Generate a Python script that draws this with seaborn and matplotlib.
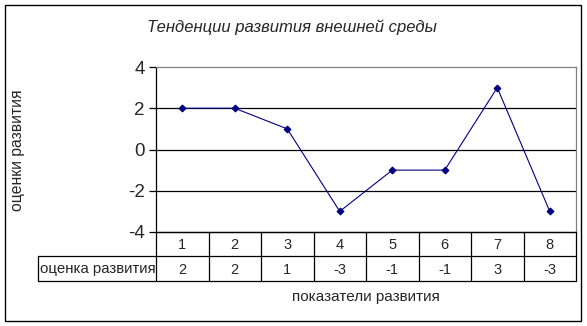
import matplotlib
matplotlib.use("Agg")
import matplotlib.pyplot as plt
import seaborn as sns
import pandas as pd
from matplotlib.lines import Line2D

categories = [1, 2, 3, 4, 5, 6, 7, 8]
values = [2, 2, 1, -3, -1, -1, 3, -3]
yticks = [-4, -2, 0, 2, 4]
title = "Тенденции развития внешней среды"
ylabel = "оценки развития"
xlabel = "показатели развития"
series_name = "оценка развития"

sns.set_style("white")
plt.rcParams['font.family'] = ['Liberation Sans', 'DejaVu Sans']

W, H = 587, 326
fig = plt.figure(figsize=(W / 100, H / 100), dpi=100)
fig.patch.set_facecolor("white")

def fx(px):
    return px / W

def fy(py):
    return 1 - py / H

L, R, T, B = 156, 576, 67, 232
ax = fig.add_axes([fx(L), fy(B), fx(R) - fx(L), fy(T) - fy(B)])

df = pd.DataFrame({"cat": categories, "val": values})
sns.lineplot(data=df, x="cat", y="val", ax=ax, color="#000080", linewidth=0.8,
             marker="D", markersize=3.5, markeredgecolor="#000080", markerfacecolor="#000080")

ax.set_xlim(0.5, 8.5)
ax.set_ylim(-4, 4)
ax.set_yticks(yticks)
ax.set_yticklabels([str(v) for v in yticks], fontsize=13.5)
ax.set_xticks([])
ax.set_xlabel("")
ax.set_ylabel("")
for v in [-2, 0, 2]:
    ax.axhline(v, color="black", linewidth=0.9, zorder=0)
ax.tick_params(axis="y", direction="out", length=5, width=0.9, color="black", pad=3, left=True)
for s in ["top", "right"]:
    ax.spines[s].set_color("#808080")
    ax.spines[s].set_linewidth(0.9)
ax.spines["left"].set_color("black")
ax.spines["left"].set_linewidth(0.9)
ax.spines["bottom"].set_color("black")
ax.spines["bottom"].set_linewidth(0.9)

# data table
r1, r2, r3 = 232, 256, 281
labx = 38
col_w = (R - L) / len(categories)

def hline(x0, x1, y):
    fig.add_artist(Line2D([fx(x0), fx(x1)], [fy(y), fy(y)], color="black", linewidth=0.9))

def vline(x, y0, y1):
    fig.add_artist(Line2D([fx(x), fx(x)], [fy(y0), fy(y1)], color="black", linewidth=0.9))

hline(L, R, r1)
hline(labx, R, r2)
hline(labx, R, r3)
vline(labx, r2, r3)
for i in range(len(categories) + 1):
    vline(L + i * col_w, r1, r3)

for i, (c, v) in enumerate(zip(categories, values)):
    cx = L + (i + 0.5) * col_w
    fig.text(fx(cx), fy((r1 + r2) / 2 + 1), str(c), ha="center", va="center", fontsize=10.5)
    fig.text(fx(cx), fy((r2 + r3) / 2 + 1), str(v), ha="center", va="center", fontsize=10.5)
fig.text(fx(labx + 2), fy((r2 + r3) / 2 + 1), series_name, ha="left", va="center", fontsize=10.8)

fig.text(fx(292), fy(27), title, ha="center", va="center", fontsize=12, style="italic")
fig.text(fx(18), fy(150), ylabel, ha="center", va="center", fontsize=11.3, rotation=90)
fig.text(fx(366), fy(297), xlabel, ha="center", va="center", fontsize=11)

# outer border
fig.add_artist(plt.Rectangle((fx(5), fy(321)), fx(581) - fx(5), fy(5) - fy(321),
                             fill=False, edgecolor="black", linewidth=1.0))

fig.savefig("out.png", dpi=100)
